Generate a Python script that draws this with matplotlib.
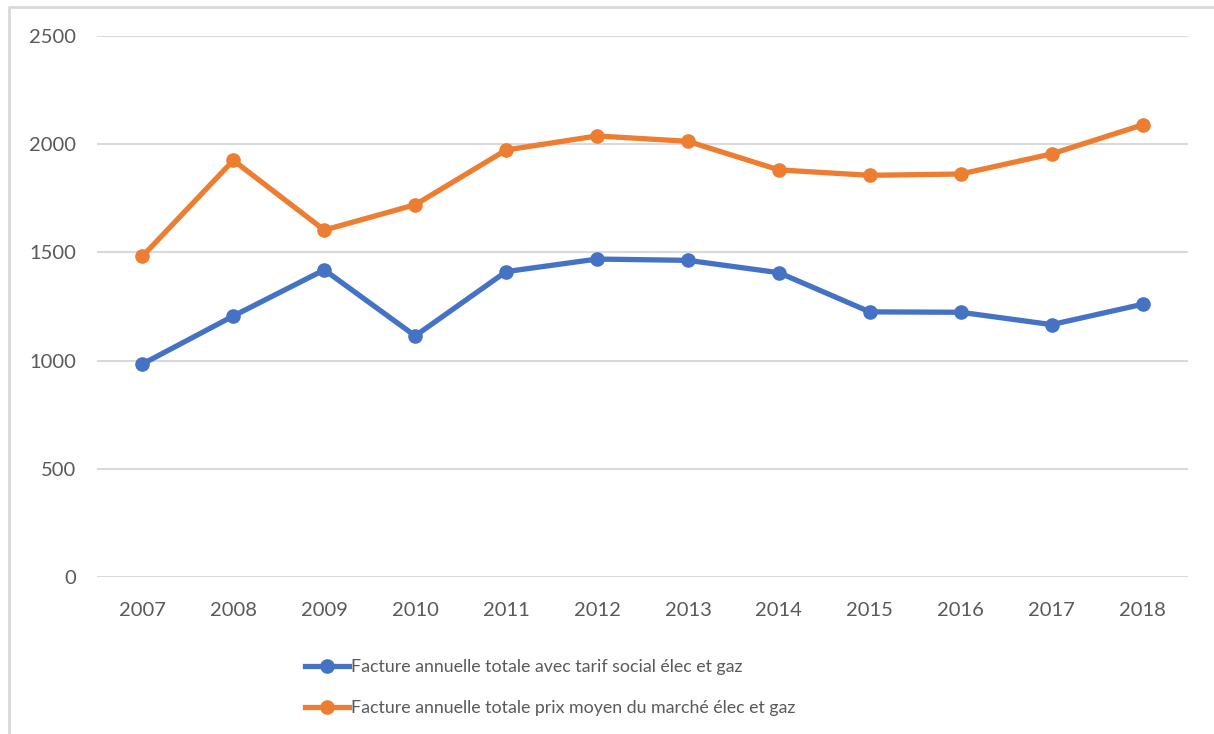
import matplotlib.pyplot as plt
from matplotlib.lines import Line2D

# data
years = ['2007', '2008', '2009', '2010', '2011', '2012',
         '2013', '2014', '2015', '2016', '2017', '2018']
tarif_social = [984, 1206, 1419, 1114, 1411, 1469, 1463, 1406, 1225, 1223, 1166, 1260]
prix_marche = [1482, 1925, 1603, 1720, 1973, 2038, 2013, 1881, 1856, 1862, 1955, 2089]

label_social = "Facture annuelle totale avec tarif social élec et gaz"
label_marche = "Facture annuelle totale prix moyen du marché élec et gaz"

blue = '#4472C4'
orange = '#ED7D31'
grey_txt = '#595959'

plt.rcParams['font.family'] = ['Lato', 'DejaVu Sans']

fig = plt.figure(figsize=(12.14, 7.34), dpi=100)
ax = fig.add_axes([0.0799, 0.214, 0.8987, 0.737])

x = list(range(len(years)))
ax.plot(x, tarif_social, color=blue, lw=3.8, marker='o', ms=9.5,
        solid_capstyle='round', label=label_social, zorder=3)
ax.plot(x, prix_marche, color=orange, lw=3.8, marker='o', ms=9.5,
        solid_capstyle='round', label=label_marche, zorder=3)

ax.set_xlim(-0.5, len(years) - 0.5)
ax.set_ylim(0, 2500)
ax.set_yticks([0, 500, 1000, 1500, 2000, 2500])
ax.set_xticks(x)
ax.set_xticklabels(years)
ax.yaxis.grid(True, color='#D9D9D9', lw=1.5)
ax.set_axisbelow(True)
for s in ax.spines.values():
    s.set_visible(False)
ax.tick_params(axis='both', length=0, labelsize=14.5, labelcolor=grey_txt)
ax.tick_params(axis='x', pad=18)
ax.tick_params(axis='y', pad=15)

# legend stacked below the plot
handles = [Line2D([], [], color=blue, lw=3.8, marker='o', ms=9.5),
           Line2D([], [], color=orange, lw=3.8, marker='o', ms=9.5)]
fig.legend(handles, [label_social, label_marche], loc='upper left',
           bbox_to_anchor=(0.245, 0.112), bbox_transform=fig.transFigure,
           frameon=False, fontsize=12.8, labelcolor=grey_txt,
           handlelength=2.5, handletextpad=0.1, labelspacing=1.4,
           borderaxespad=0)

# thin grey frame of the chart area
fig.add_artist(Line2D([9 / 1214, 9 / 1214, 1.0], [0.0, 1 - 7 / 734, 1 - 7 / 734],
                      transform=fig.transFigure, color='#D9D9D9', lw=2))

fig.savefig('out.png', dpi=100)
